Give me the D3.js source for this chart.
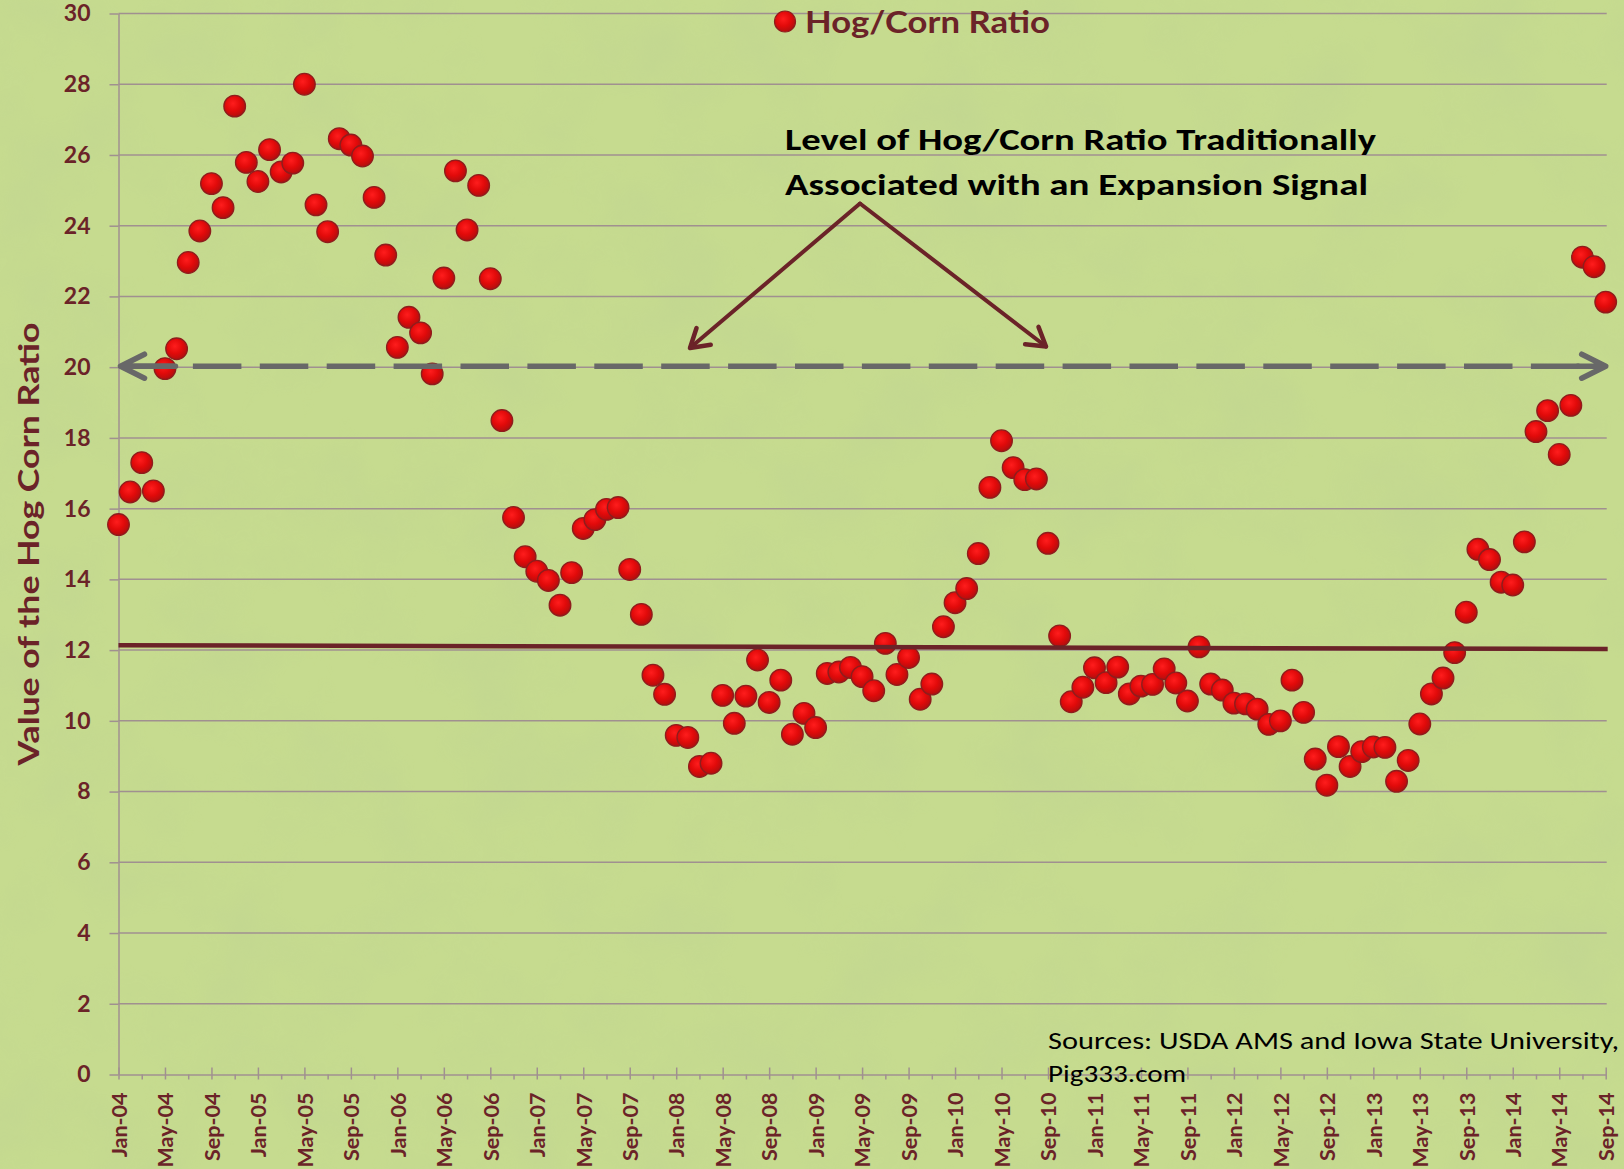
<!DOCTYPE html>
<html>
<head>
<meta charset="utf-8">
<script src="https://cdn.jsdelivr.net/npm/d3@7"></script>
<style>
  html, body { margin: 0; padding: 0; background: #c5da8d; }
  svg { display: block; }
</style>
</head>
<body>
<svg id="chart"></svg>
<script>
// monthly hog/corn ratio, Jan-04 .. Sep-14
var hogCornRatio = [
  15.55, 16.47, 17.30, 16.50, 19.96, 20.52, 22.96, 23.85, 25.19, 24.51, 27.38, 25.79,
  25.25, 26.15, 25.52, 25.77, 28.00, 24.59, 23.83, 26.46, 26.28, 25.97, 24.80, 23.17,
  20.56, 21.41, 20.97, 19.81, 22.52, 25.55, 23.88, 25.14, 22.50, 18.49, 15.75, 14.64,
  14.23, 13.97, 13.27, 14.19, 15.44, 15.69, 15.98, 16.03, 14.28, 13.01, 11.29, 10.75,
  9.59, 9.53, 8.71, 8.80, 10.72, 9.93, 10.70, 11.72, 10.52, 11.15, 9.62, 10.21,
  9.81, 11.34, 11.38, 11.51, 11.25, 10.85, 12.19, 11.31, 11.79, 10.61, 11.04, 12.66,
  13.34, 13.74, 14.73, 16.60, 17.92, 17.16, 16.82, 16.84, 15.02, 12.40, 10.54, 10.95,
  11.50, 11.08, 11.52, 10.76, 10.98, 11.03, 11.47, 11.07, 10.56, 12.09, 11.04, 10.87,
  10.50, 10.48, 10.33, 9.90, 10.00, 11.15, 10.24, 8.92, 8.18, 9.27, 8.71, 9.13,
  9.26, 9.25, 8.29, 8.88, 9.91, 10.76, 11.21, 11.93, 13.07, 14.85, 14.56, 13.92,
  13.84, 15.06, 18.18, 18.77, 17.53, 18.92, 23.11, 22.84, 21.84
];
var firstMonth = new Date(2004, 0, 1);
var yTicks = [0, 2, 4, 6, 8, 10, 12, 14, 16, 18, 20, 22, 24, 26, 28, 30];
var expansionLevel = 20;
var trendValues = [12.14, 12.03];   // trend line at first / last month
var legendLabel = "Hog/Corn Ratio";
var yTitle = "Value of the Hog Corn Ratio";
var noteLines = ["Level of Hog/Corn Ratio Traditionally", "Associated with an Expansion Signal"];
var sourceLines = ["Sources: USDA AMS and Iowa State University,", "Pig333.com"];

var W = 1624, H = 1169;
var plot = { left: 118.5, right: 1605.7, top: 13.5, bottom: 1074.5 };
var maroon = "#6b2328", gridColor = "#a09090";

var months = d3.timeMonth.range(firstMonth, d3.timeMonth.offset(firstMonth, hogCornRatio.length));
var fmt = d3.timeFormat("%b-%y");
var labels = months.map(fmt);
var data = labels.map(function(m, i) { return { month: m, value: hogCornRatio[i], idx: i }; });

var svg = d3.select("#chart").attr("width", W).attr("height", H);

// paper-ish background
var defs = svg.append("defs");
var f = defs.append("filter").attr("id", "paper").attr("x", 0).attr("y", 0).attr("width", 1).attr("height", 1);
f.append("feTurbulence").attr("type", "fractalNoise").attr("baseFrequency", "0.011").attr("numOctaves", 4).attr("seed", 7);
f.append("feColorMatrix").attr("type", "matrix")
  .attr("values", "0 0 0 0 0.50  0 0 0 0 0.62  0 0 0 0 0.30  1.1 0 0 0 -0.45");
var grad = defs.append("radialGradient").attr("id", "dot").attr("cx", "42%").attr("cy", "38%").attr("r", "62%");
grad.append("stop").attr("offset", "0%").attr("stop-color", "#ff1d1d");
grad.append("stop").attr("offset", "55%").attr("stop-color", "#e20a0a");
grad.append("stop").attr("offset", "100%").attr("stop-color", "#b30e0e");

svg.append("rect").attr("width", W).attr("height", H).attr("fill", "#c6db8f");
svg.append("rect").attr("width", W).attr("height", H).attr("filter", "url(#paper)").attr("opacity", 0.55);

var x = d3.scalePoint().domain(labels).range([plot.left, plot.right]);
var y = d3.scaleLinear().domain([0, 30]).range([plot.bottom, plot.top]);

// gridlines
svg.append("g").selectAll("line").data(yTicks.filter(function(d) { return d > 0; })).join("line")
  .attr("x1", plot.left).attr("x2", plot.right + 1)
  .attr("y1", function(d) { return y(d); }).attr("y2", function(d) { return y(d); })
  .attr("stroke", gridColor).attr("stroke-width", 1.5);

// y axis
var yAxis = svg.append("g").attr("transform", "translate(" + plot.left + ",0)")
  .call(d3.axisLeft(y).tickValues(yTicks).tickSize(9).tickPadding(19).tickSizeOuter(0));
yAxis.select(".domain").attr("stroke", gridColor).attr("stroke-width", 1.5);
yAxis.selectAll(".tick line").attr("stroke", gridColor).attr("stroke-width", 1.5);
yAxis.selectAll(".tick text")
  .attr("fill", maroon).style("font-family", "Lato, sans-serif").style("font-weight", "bold").style("font-size", "23px");

// x axis, ticks every 2 months, labels every 4
var xAxis = svg.append("g").attr("transform", "translate(0," + plot.bottom + ")")
  .call(d3.axisBottom(x)
    .tickValues(labels.filter(function(d, i) { return i % 2 === 0; }))
    .tickSize(5).tickSizeOuter(0)
    .tickFormat(function(d) { return labels.indexOf(d) % 4 === 0 ? d : ""; }));
xAxis.select(".domain").attr("stroke", gridColor).attr("stroke-width", 1.5);
xAxis.selectAll(".tick line").attr("stroke", gridColor).attr("stroke-width", 1.5)
  .attr("y1", function(d) { return labels.indexOf(d) % 4 === 0 ? -7 : 0; });
xAxis.selectAll(".tick text")
  .attr("transform", "rotate(-90)")
  .attr("x", -18).attr("y", 0).attr("dy", "0.36em")
  .attr("text-anchor", "end")
  .attr("fill", maroon).style("font-family", "Lato, sans-serif").style("font-weight", "bold").style("font-size", "21.5px");

// y title
svg.append("text")
  .attr("transform", "translate(39," + ((plot.top + plot.bottom) / 2) + ") rotate(-90)")
  .attr("text-anchor", "middle")
  .attr("fill", maroon).style("font-family", "Lato, sans-serif").style("font-weight", "bold").style("font-size", "29px")
  .attr("textLength", 443).attr("lengthAdjust", "spacingAndGlyphs")
  .text(yTitle);

// points
svg.append("g").selectAll("circle").data(data).join("circle")
  .attr("cx", function(d) { return x(d.month); })
  .attr("cy", function(d) { return y(d.value); })
  .attr("r", 10.8)
  .attr("fill", "url(#dot)")
  .attr("stroke", "#8e1d1d").attr("stroke-width", 1.3);

// trend line
svg.append("line")
  .attr("x1", x(labels[0])).attr("x2", x(labels[labels.length - 1]) + 2)
  .attr("y1", y(trendValues[0])).attr("y2", y(trendValues[1]))
  .attr("stroke", maroon).attr("stroke-width", 4.5);

// expansion level: dashed double arrow
var yE = y(expansionLevel) - 1;
var xa = x(labels[0]) + 2, xb = x(labels[labels.length - 1]);
svg.append("line")
  .attr("x1", xa + 5).attr("x2", xb - 4).attr("y1", yE).attr("y2", yE)
  .attr("stroke", "#686868").attr("stroke-width", 5.5)
  .attr("stroke-dasharray", "48.5 18.4").attr("stroke-dashoffset", -0.5);
svg.append("path")
  .attr("d", "M" + (xa + 24) + "," + (yE - 12) + "L" + xa + "," + yE + "L" + (xa + 24) + "," + (yE + 12) +
             "M" + xa + "," + yE + "L" + (xa + 55) + "," + yE)
  .attr("fill", "none").attr("stroke", "#686868").attr("stroke-width", 5.5)
  .attr("stroke-linecap", "round").attr("stroke-linejoin", "round");
svg.append("path")
  .attr("d", "M" + (xb - 24) + "," + (yE - 12) + "L" + xb + "," + yE + "L" + (xb - 24) + "," + (yE + 12) +
             "M" + xb + "," + yE + "L" + (xb - 28) + "," + yE)
  .attr("fill", "none").attr("stroke", "#686868").attr("stroke-width", 5.5)
  .attr("stroke-linecap", "round").attr("stroke-linejoin", "round");

// annotation arrows
var apex = [860, 203.5];
var tips = [[690, 348], [1046, 346.5]];
tips.forEach(function(t) {
  svg.append("line")
    .attr("x1", apex[0]).attr("y1", apex[1]).attr("x2", t[0]).attr("y2", t[1])
    .attr("stroke", maroon).attr("stroke-width", 4).attr("stroke-linecap", "round");
  var ang = Math.atan2(t[1] - apex[1], t[0] - apex[0]);
  var len = 21, spread = 0.55;
  var p1 = [t[0] - len * Math.cos(ang - spread), t[1] - len * Math.sin(ang - spread)];
  var p2 = [t[0] - len * Math.cos(ang + spread), t[1] - len * Math.sin(ang + spread)];
  svg.append("path")
    .attr("d", "M" + p1 + "L" + t + "L" + p2)
    .attr("fill", "none").attr("stroke", maroon).attr("stroke-width", 4.5)
    .attr("stroke-linecap", "round").attr("stroke-linejoin", "round");
});

svg.selectAll(".note").data(noteLines).join("text")
  .attr("class", "note")
  .attr("x", 785)
  .attr("y", function(d, i) { return 149.5 + i * 45; })
  .attr("fill", "#000").style("font-family", "Carlito, Lato, sans-serif").style("font-weight", "bold").style("font-size", "30px")
  .attr("textLength", function(d, i) { return i === 0 ? 591 : 583; }).attr("lengthAdjust", "spacingAndGlyphs")
  .text(function(d) { return d; });

// legend
svg.append("circle").attr("cx", 785).attr("cy", 21.5).attr("r", 10.5)
  .attr("fill", "url(#dot)").attr("stroke", "#8e1d1d").attr("stroke-width", 1.2);
svg.append("text").attr("x", 805).attr("y", 32.5)
  .attr("fill", maroon).style("font-family", "Lato, sans-serif").style("font-weight", "bold").style("font-size", "31px")
  .attr("textLength", 245).attr("lengthAdjust", "spacingAndGlyphs")
  .text(legendLabel);

// sources
svg.selectAll(".src").data(sourceLines).join("text")
  .attr("class", "src")
  .attr("x", 1048)
  .attr("y", function(d, i) { return 1048.5 + i * 33.5; })
  .attr("fill", "#000").style("font-family", "Carlito, Lato, sans-serif").style("font-size", "25px")
  .attr("textLength", function(d, i) { return i === 0 ? 571 : 138; }).attr("lengthAdjust", "spacingAndGlyphs")
  .text(function(d) { return d; });
</script>
</body>
</html>
